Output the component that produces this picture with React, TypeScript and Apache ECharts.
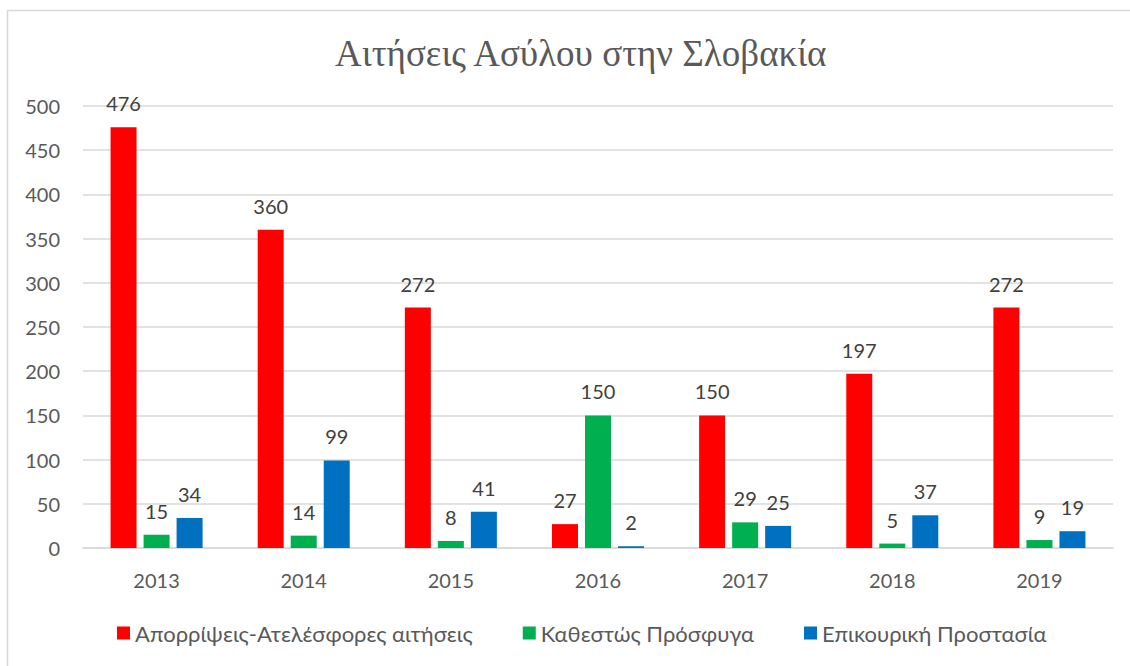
import React, { useEffect, useRef } from "react";
import * as echarts from "echarts";

const categories = ["2013", "2014", "2015", "2016", "2017", "2018", "2019"];
const seriesNames = [
  "Απορρίψεις-Ατελέσφορες αιτήσεις",
  "Καθεστώς Πρόσφυγα",
  "Επικουρική Προστασία",
];
const rejections = [476, 360, 272, 27, 150, 197, 272];
const refugee = [15, 14, 8, 150, 29, 5, 9];
const subsidiary = [34, 99, 41, 2, 25, 37, 19];
const colors = ["#FF0000", "#00B050", "#0070C0"];
const titleText = "Αιτήσεις Ασύλου στην Σλοβακία";

const FONT = "Lato, 'Noto Sans', sans-serif";

export default function App() {
  const ref = useRef<HTMLDivElement>(null);
  useEffect(() => {
    if (!ref.current) return;
    const chart = echarts.init(ref.current, null, { renderer: "svg" });
    const values = [rejections, refugee, subsidiary];
    chart.setOption({
      animation: false,
      backgroundColor: "#ffffff",
      color: colors,
      title: {
        text: titleText,
        left: 330,
        top: 30,
        textStyle: {
          fontFamily: "'Liberation Serif', 'Times New Roman', serif",
          fontSize: 37,
          fontWeight: "normal",
          color: "#595959",
        },
      },
      graphic: [
        {
          type: "rect",
          shape: { x: 7.5, y: 10.5, width: 1200, height: 800 },
          style: { fill: "none", stroke: "#d9d9d9", lineWidth: 1.5 },
          silent: true,
        },
      ],
      legend: {
        data: seriesNames,
        left: 112,
        top: 617,
        itemWidth: 13,
        itemHeight: 13,
        itemGap: 50,
        icon: "rect",
        textStyle: { fontFamily: FONT, fontSize: 22, color: "#595959" },
      },
      grid: { left: 83, right: 17, top: 106, bottom: 118, containLabel: false },
      xAxis: {
        type: "category",
        data: categories,
        axisLine: { lineStyle: { color: "#d9d9d9", width: 1.5 } },
        axisTick: { show: false },
        axisLabel: { fontFamily: FONT, fontSize: 20, color: "#595959", margin: 22 },
      },
      yAxis: {
        type: "value",
        min: 0,
        max: 500,
        interval: 50,
        axisLine: { show: false },
        axisTick: { show: false },
        splitLine: { lineStyle: { color: "#d9d9d9", width: 1.5 } },
        axisLabel: { fontFamily: FONT, fontSize: 20, color: "#595959", margin: 23 },
      },
      series: seriesNames.map((name, i) => ({
        name,
        type: "bar",
        data: values[i],
        barWidth: 26,
        barGap: "27%",
        itemStyle: { color: colors[i] },
        label: {
          show: true,
          position: "top",
          distance: 14,
          fontFamily: FONT,
          fontSize: 20,
          color: "#404040",
        },
      })),
    });
    return () => chart.dispose();
  }, []);
  return (
    <div
      ref={ref}
      style={{ position: "fixed", left: 0, top: 0, width: 1130, height: 666 }}
    />
  );
}
